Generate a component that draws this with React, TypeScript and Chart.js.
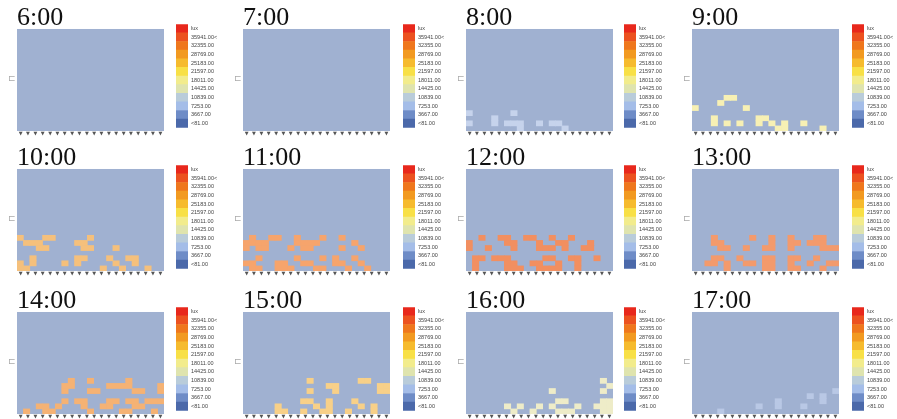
import React, { useEffect, useRef } from 'react';
import { Chart, registerables } from 'chart.js';

Chart.register(...registerables);

// ---------- data ----------
const TIMES = ['6:00', '7:00', '8:00', '9:00', '10:00', '11:00', '12:00', '13:00', '14:00', '15:00', '16:00', '17:00'];

const COLUMN_LABELS = ['c1', 'c2', 'c3', 'c4', 'c5', 'c6', 'c7', 'c8', 'c9', 'c10', 'c11', 'c12', 'c13', 'c14', 'c15', 'c16', 'c17', 'c18', 'c19', 'c20', 'c21', 'c22', 'c23'];
const ROW_COUNT = 20;
const MARKERS = ['▼', '▼', '▼', '▼', '▼', '▼', '▼', '▼', '▼', '▼', '▼', '▼', '▼', '▼', '▼', '▼', '▼', '▼', '▼', '▼'];

const LEGEND_LABELS = ['lux', '35941.00<', '32355.00', '28769.00', '25183.00', '21597.00', '18011.00', '14425.00', '10839.00', '7253.00', '3667.00', '<81.00'];
const LEGEND_COLORS = ['#e8281c', '#ec5220', '#ef771d', '#f29a21', '#f6bb2e', '#f8e046', '#f2ec8c', '#dfe4ae', '#b9ccda', '#a4bde8', '#6e8cc7', '#4b69aa'];
const LEGEND_SPAN = [1, 1, 1, 1, 1, 1, 1, 1, 1, 1, 1, 1];

const FIELD_COLOR = '#a0b1d1';
const CELL_COLORS = ['#c4d1ea', '#c4d1ea', '#c6d3ec', '#f7f0b4', '#f5c07c', '#f6a46c', '#f28f60', '#f39a6c', '#f5b274', '#f8d088', '#eeecc8', '#b9c8e5'];

// cells as [column, row-from-bottom]
const CELLS_0600: number[][] = [];
const CELLS_0700: number[][] = [];
const CELLS_0800 = [[0, 3], [0, 1], [4, 1], [4, 2], [7, 3], [6, 1], [7, 1], [8, 1], [8, 0], [11, 1], [13, 1], [14, 1], [15, 0]];
const CELLS_0900 = [[5, 6], [6, 6], [4, 5], [0, 4], [8, 4], [3, 1], [3, 2], [5, 1], [7, 1], [10, 2], [11, 2], [10, 1], [12, 1], [13, 0], [14, 0], [14, 1], [17, 1], [20, 0]];
const CELLS_1000 = [[0, 6], [4, 6], [5, 6], [1, 5], [2, 5], [3, 5], [3, 4], [4, 4], [9, 5], [10, 5], [11, 6], [10, 4], [11, 4], [15, 4],
  [2, 1], [2, 2], [0, 0], [0, 1], [1, 0], [7, 1], [9, 2], [10, 2], [9, 1], [13, 0], [14, 2], [15, 1], [16, 0], [17, 2], [18, 2], [18, 1], [20, 0]];
const CELLS_1100 = [[1, 6], [4, 6], [5, 6], [8, 6], [12, 6], [15, 6], [0, 5], [1, 5], [2, 5], [3, 5], [8, 5], [9, 5], [10, 5], [11, 5], [17, 5],
  [0, 4], [2, 4], [3, 4], [7, 4], [9, 4], [10, 4], [15, 4], [18, 4], [2, 2], [8, 2], [12, 2], [14, 2], [17, 2],
  [0, 1], [1, 1], [5, 1], [6, 1], [9, 1], [10, 1], [14, 1], [15, 1], [18, 1], [1, 0], [2, 0], [5, 0], [6, 0], [7, 0], [11, 0], [12, 0], [16, 0], [19, 0]];
const CELLS_1200 = [[2, 6], [5, 6], [6, 6], [9, 6], [10, 6], [13, 6], [16, 6], [0, 5], [6, 5], [7, 5], [11, 5], [14, 5], [15, 5], [19, 5],
  [0, 4], [3, 4], [7, 4], [11, 4], [12, 4], [13, 4], [15, 4], [18, 4], [19, 4],
  [1, 2], [2, 2], [4, 2], [5, 2], [6, 2], [12, 2], [13, 2], [16, 2], [17, 2], [20, 2],
  [1, 1], [6, 1], [7, 1], [10, 1], [11, 1], [14, 1], [17, 1], [1, 0], [6, 0], [7, 0], [8, 0], [11, 0], [12, 0], [13, 0], [14, 0], [17, 0]];
const CELLS_1300 = [[3, 6], [9, 6], [12, 6], [15, 6], [19, 6], [20, 6], [3, 5], [4, 5], [12, 5], [15, 5], [16, 5], [18, 5], [19, 5], [20, 5],
  [4, 4], [5, 4], [8, 4], [11, 4], [12, 4], [15, 4], [20, 4], [21, 4], [22, 4],
  [3, 2], [4, 2], [7, 2], [11, 2], [12, 2], [15, 2], [16, 2], [19, 2],
  [2, 1], [3, 1], [5, 1], [8, 1], [9, 1], [11, 1], [12, 1], [15, 1], [18, 1], [21, 1], [22, 1],
  [5, 0], [11, 0], [12, 0], [15, 0], [16, 0], [20, 0]];
const CELLS_1400 = [[8, 6], [11, 6], [17, 6], [7, 5], [8, 5], [14, 5], [15, 5], [16, 5], [17, 5], [22, 5], [7, 4], [11, 4], [12, 4], [18, 4], [19, 4], [22, 4],
  [7, 2], [9, 2], [10, 2], [14, 2], [15, 2], [17, 2], [18, 2], [20, 2], [21, 2], [22, 2],
  [3, 1], [4, 1], [6, 1], [10, 1], [13, 1], [14, 1], [18, 1], [19, 1], [1, 0], [4, 0], [5, 0], [11, 0], [16, 0], [17, 0], [21, 0]];
const CELLS_1500 = [[10, 6], [18, 6], [19, 6], [13, 5], [14, 5], [21, 5], [22, 5], [10, 4], [14, 4], [21, 4], [22, 4],
  [9, 2], [10, 2], [13, 2], [17, 2], [5, 1], [11, 1], [13, 1], [18, 1], [20, 1],
  [5, 0], [6, 0], [9, 0], [12, 0], [13, 0], [16, 0], [20, 0]];
const CELLS_1600 = [[21, 6], [22, 5], [21, 4], [21, 2], [22, 2], [21, 1], [22, 1], [21, 0], [22, 0], [13, 4], [14, 2], [15, 2],
  [6, 1], [7, 0], [8, 1], [11, 1], [10, 0], [13, 1], [14, 0], [15, 0], [16, 0], [17, 1], [20, 1]];
const CELLS_1700 = [[4, 0], [10, 1], [13, 1], [13, 2], [17, 1], [18, 3], [20, 2], [20, 3], [22, 4]];

const ALL_CELLS = [CELLS_0600, CELLS_0700, CELLS_0800, CELLS_0900, CELLS_1000, CELLS_1100, CELLS_1200, CELLS_1300, CELLS_1400, CELLS_1500, CELLS_1600, CELLS_1700];

// ---------- layout ----------
const PANEL_LEFT = [17, 243, 466, 692];
const LEGEND_LEFT = [176, 403, 624, 852];
const PANEL_TOP = [29, 169, 312];
const LEGEND_TOP = [18, 159, 301];
const PANEL_W = 147;
const PANEL_H = 102;
const LEGEND_W = 46;
const LEGEND_H = 116;
const BAR_W = 12;

const fieldPlugin = {
  id: 'field',
  beforeDatasetsDraw(chart: any) {
    const { ctx, chartArea } = chart;
    ctx.save();
    ctx.fillStyle = FIELD_COLOR;
    ctx.fillRect(chartArea.left, chartArea.top, chartArea.right - chartArea.left, chartArea.bottom - chartArea.top);
    ctx.restore();
  },
};

function HeatPanel({ index }: { index: number }) {
  const ref = useRef<HTMLCanvasElement>(null);
  const col = index % 4;
  const row = Math.floor(index / 4);
  const cw = PANEL_W + 4;
  const ch = 24 + PANEL_H + 6;
  useEffect(() => {
    const cells = ALL_CELLS[index];
    const chart = new Chart(ref.current as HTMLCanvasElement, {
      type: 'bar',
      data: {
        labels: COLUMN_LABELS,
        datasets: [
          {
            data: cells.map(([c, r]) => ({ x: COLUMN_LABELS[c], y: [r, r + 1] })) as any,
            backgroundColor: CELL_COLORS[index],
            borderWidth: 0,
            barPercentage: 1,
            categoryPercentage: 1,
            xAxisID: 'x',
            yAxisID: 'y',
          } as any,
        ],
      },
      options: {
        animation: false,
        responsive: false,
        maintainAspectRatio: false,
        events: [],
        layout: { padding: { left: 2, right: 2, top: 1.5, bottom: 0 } },
        plugins: {
          legend: { display: false },
          tooltip: { enabled: false },
          title: {
            display: true,
            text: TIMES[index],
            align: 'start',
            color: '#111',
            font: { family: "'Liberation Serif', 'Times New Roman', serif", size: 26, lineHeight: 0.865, weight: 'normal' },
            padding: { top: 0, bottom: 0 },
          },
        },
        scales: {
          x: { type: 'category', display: false, offset: true },
          xm: {
            type: 'category',
            labels: MARKERS,
            position: 'bottom',
            offset: true,
            grid: { display: false, drawTicks: false },
            border: { display: false },
            ticks: { autoSkip: false, maxRotation: 0, padding: 0, color: '#555', font: { family: 'DejaVu Sans', size: 5 } },
            afterFit(scale: any) {
              scale.height = 6;
            },
          } as any,
          y: { type: 'linear', display: false, min: 0, max: ROW_COUNT },
        },
      } as any,
      plugins: [fieldPlugin],
    });
    return () => chart.destroy();
  }, [index]);
  return (
    <>
      <canvas
        ref={ref}
        width={cw}
        height={ch}
        style={{ position: 'absolute', left: PANEL_LEFT[col] - 2, top: PANEL_TOP[row] - 24, width: cw, height: ch }}
      />
      <span
        style={{
          position: 'absolute',
          left: PANEL_LEFT[col] - 9,
          top: PANEL_TOP[row] + 44,
          fontSize: 9,
          lineHeight: '10px',
          color: '#aaa',
          fontFamily: 'DejaVu Sans',
        }}
      >
        ⊏
      </span>
    </>
  );
}

function LegendBar({ index }: { index: number }) {
  const ref = useRef<HTMLCanvasElement>(null);
  const col = index % 4;
  const row = Math.floor(index / 4);
  useEffect(() => {
    const chart = new Chart(ref.current as HTMLCanvasElement, {
      type: 'bar',
      data: {
        labels: LEGEND_LABELS,
        datasets: [
          {
            data: LEGEND_SPAN,
            backgroundColor: LEGEND_COLORS,
            borderWidth: 0,
            barPercentage: 1,
            categoryPercentage: 1,
          },
        ],
      },
      options: {
        animation: false,
        responsive: false,
        maintainAspectRatio: false,
        events: [],
        indexAxis: 'y',
        layout: { padding: 0 },
        plugins: { legend: { display: false }, tooltip: { enabled: false } },
        scales: {
          x: { type: 'linear', display: false, min: 0, max: 1 },
          y: {
            type: 'category',
            position: 'right',
            offset: true,
            grid: { display: false, drawTicks: false },
            border: { display: false },
            ticks: { autoSkip: false, padding: 3, color: '#444', font: { family: "'Liberation Sans', Arial, sans-serif", size: 5.5 } },
            afterFit(scale: any) {
              scale.width = LEGEND_W - BAR_W;
            },
          } as any,
        },
      } as any,
    });
    return () => chart.destroy();
  }, [index]);
  return (
    <canvas
      ref={ref}
      width={LEGEND_W}
      height={LEGEND_H}
      style={{ position: 'absolute', left: LEGEND_LEFT[col], top: LEGEND_TOP[row], width: LEGEND_W, height: LEGEND_H }}
    />
  );
}

export default function App() {
  return (
    <div style={{ position: 'fixed', left: 0, top: 0, width: 897, height: 419, background: '#ffffff', overflow: 'hidden' }}>
      {TIMES.map((t, i) => (
        <React.Fragment key={t}>
          <HeatPanel index={i} />
          <LegendBar index={i} />
        </React.Fragment>
      ))}
    </div>
  );
}
